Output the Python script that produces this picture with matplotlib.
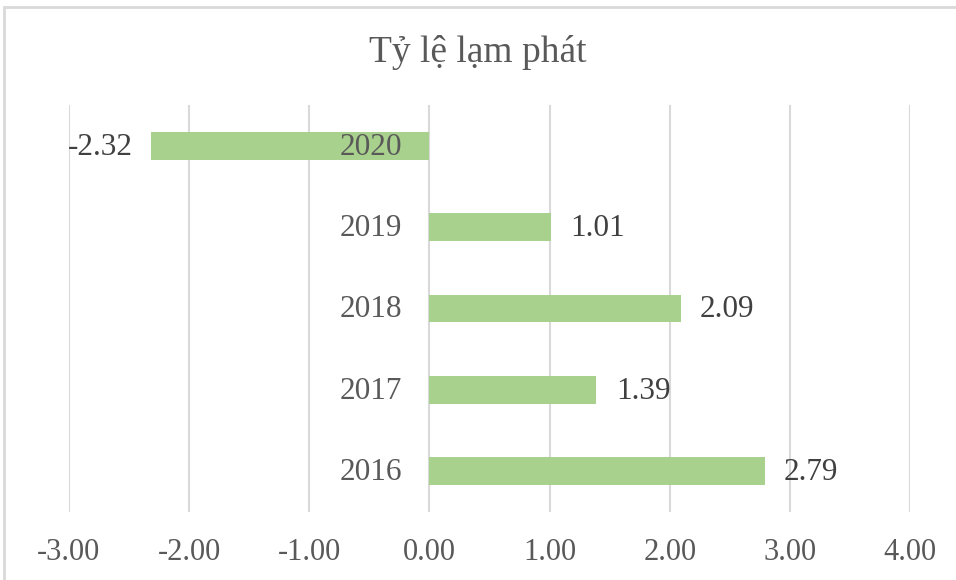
import matplotlib
matplotlib.use("Agg")
import matplotlib.pyplot as plt
from matplotlib.patches import Rectangle

years = ["2016", "2017", "2018", "2019", "2020"]
values = [2.79, 1.39, 2.09, 1.01, -2.32]
xticks = [-3, -2, -1, 0, 1, 2, 3, 4]
title = "Tỷ lệ lạm phát"

plt.rcParams['font.family'] = ['Liberation Serif', 'DejaVu Serif']

fig = plt.figure(figsize=(9.56, 5.80), dpi=100)
ax = fig.add_axes([69/956, 1-512/580, (910-69)/956, (512-105)/580])

ypos = list(range(len(years)))
ax.barh(ypos, values, height=0.34, color="#A9D18E", zorder=3)
ax.set_ylim(-0.5, len(years) - 0.5)
ax.set_xlim(-3, 4)
ax.set_xticks(xticks)
ax.set_xticklabels([f"{t:.2f}" for t in xticks], fontsize=22, color="#595959")
ax.tick_params(axis='x', length=0, pad=19)
ax.set_yticks([])
ax.grid(axis='x', color="#D9D9D9", linewidth=1.5, zorder=0)
for s in ax.spines.values():
    s.set_visible(False)

for y, yr, v in zip(ypos, years, values):
    ax.annotate(yr, xy=(0, y), xytext=(-19.4, -1), textcoords='offset points',
                ha='right', va='center', fontsize=22.5, color="#595959", zorder=4)
    if v >= 0:
        ax.annotate(f"{v:.2f}", xy=(v, y), xytext=(14, -1), textcoords='offset points',
                    ha='left', va='center', fontsize=22.5, color="#404040", zorder=4)
    else:
        ax.annotate(f"{v:.2f}", xy=(v, y), xytext=(-13, -1), textcoords='offset points',
                    ha='right', va='center', fontsize=22.5, color="#404040", zorder=4)

fig.text(0.5, 1-52/580, title, ha='center', va='center', fontsize=27, color="#595959")

fig.patches.append(Rectangle((4/956, -0.1), 1.2, 1 - 7/580 + 0.1, transform=fig.transFigure,
                             fill=False, edgecolor="#D9D9D9", linewidth=2))

fig.savefig("out.png", dpi=100)
